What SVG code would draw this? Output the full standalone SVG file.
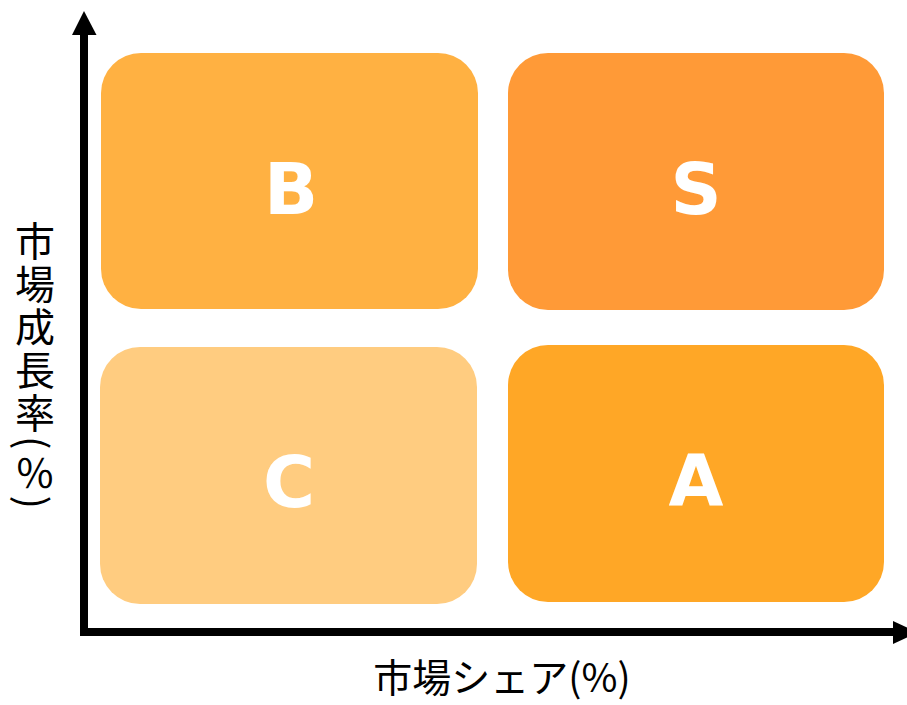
<svg xmlns="http://www.w3.org/2000/svg" width="907" height="705" viewBox="0 0 907 705">
<style>
.box{stroke:none}
.lbl{font-family:"DejaVu Sans","Noto Sans",sans-serif;font-weight:bold;font-size:71px;fill:#fff;text-anchor:middle}
.ax{font-family:"Noto Sans CJK JP","Noto Sans",sans-serif;font-size:39px;fill:#000}
</style>
<rect width="907" height="705" fill="#fff"/>
<g id="node-B"><rect class="box" x="101" y="53" width="377" height="256" rx="40" fill="#FFB142"/><text class="lbl" x="291" y="214">B</text></g>
<g id="node-S"><rect class="box" x="508" y="53" width="376" height="257" rx="40" fill="#FF9A37"/><text class="lbl" x="696" y="214">S</text></g>
<g id="node-C"><rect class="box" x="100" y="347" width="377" height="257" rx="40" fill="#FFCC80"/><text class="lbl" x="289" y="507">C</text></g>
<g id="node-A"><rect class="box" x="508" y="345" width="376" height="257" rx="40" fill="#FFA726"/><text class="lbl" x="696" y="505">A</text></g>
<g id="connectors">
<line x1="84" y1="30" x2="84" y2="636" stroke="#000" stroke-width="8"/>
<polygon points="84,11 96.5,35 72,35" fill="#000"/>
<line x1="80" y1="632" x2="896" y2="632" stroke="#000" stroke-width="8"/>
<polygon points="893,621 893,644 918,632.5" fill="#000"/>
</g>
<text class="ax" x="502" y="692" text-anchor="middle">市場シェア(%)</text>
<text class="ax" x="35" y="221" style="font-size:40px;writing-mode:vertical-rl;text-orientation:mixed;letter-spacing:3px">市場成長率(％)</text>
</svg>
